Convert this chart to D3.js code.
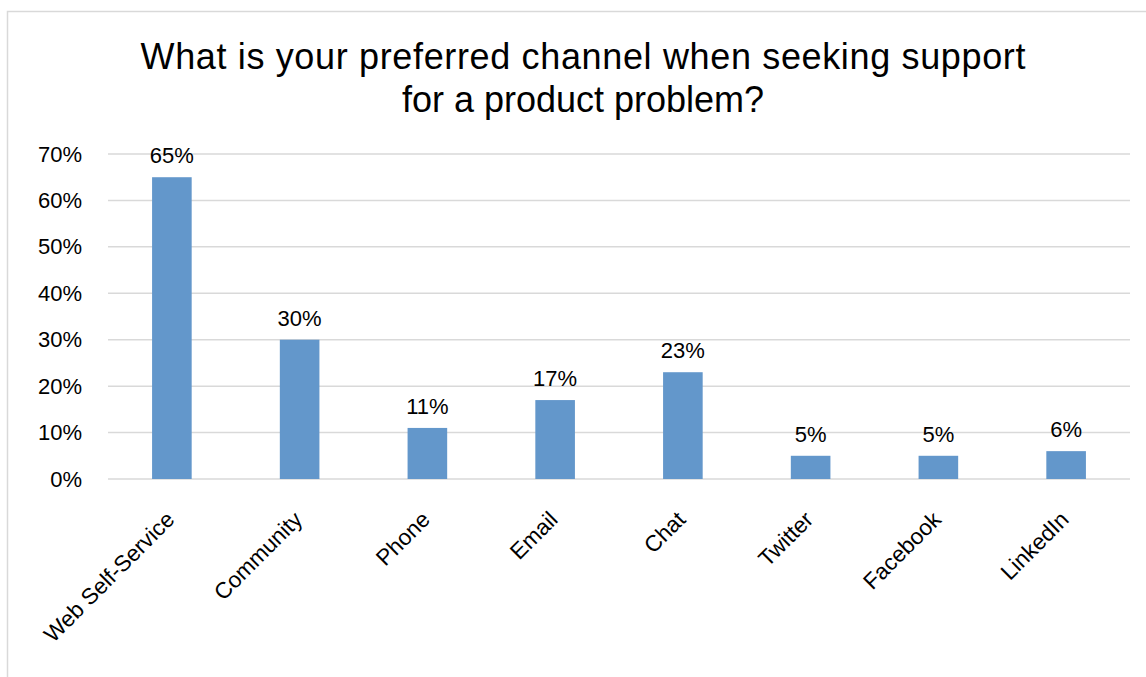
<!DOCTYPE html>
<html>
<head>
<meta charset="utf-8">
<script src="https://cdn.jsdelivr.net/npm/d3@7"></script>
<style>
  body { margin: 0; background: #fff; }
  svg { font-family: "Liberation Sans", Arial, sans-serif; }
</style>
</head>
<body>
<div class="container"></div>
<script>
const WIDTH = 1146;
const HEIGHT = 677;

// data
var categories = ['Web Self-Service', 'Community', 'Phone', 'Email', 'Chat', 'Twitter', 'Facebook', 'LinkedIn'];
var values = [65, 30, 11, 17, 23, 5, 5, 6];
var yTicks = [0, 10, 20, 30, 40, 50, 60, 70];
var titleLines = ['What is your preferred channel when seeking support', 'for a product problem?'];

var margin = { left: 108, right: 16, top: 154, bottom: 198 };

var svg = d3.select('.container').append('svg')
  .attr('width', WIDTH)
  .attr('height', HEIGHT);

// chart border
svg.append('rect')
  .attr('x', 7.5).attr('y', 11.5)
  .attr('width', WIDTH + 20).attr('height', HEIGHT + 20)
  .attr('fill', 'none')
  .attr('stroke', '#d9d9d9')
  .attr('stroke-width', 1.5);

svg.selectAll('.title')
  .data(titleLines)
  .enter().append('text')
  .attr('class', 'title')
  .attr('x', 583)
  .attr('y', function (d, i) { return 69 + i * 43; })
  .attr('text-anchor', 'middle')
  .attr('font-size', 36)
  .attr('textLength', function (d, i) { return i === 0 ? 885 : null; })
  .attr('fill', '#000')
  .text(function (d) { return d; });

var x = d3.scaleBand()
  .domain(categories)
  .range([margin.left, WIDTH - margin.right])
  .paddingInner(0.69)
  .paddingOuter(0.345);

var y = d3.scaleLinear()
  .domain([0, 70])
  .range([HEIGHT - margin.bottom, margin.top]);

// gridlines
svg.append('g')
  .selectAll('line')
  .data(yTicks)
  .enter().append('line')
  .attr('x1', margin.left)
  .attr('x2', WIDTH - margin.right)
  .attr('y1', function (d) { return y(d); })
  .attr('y2', function (d) { return y(d); })
  .attr('stroke', '#d9d9d9')
  .attr('stroke-width', 1.5);

// y axis labels
var yAxis = d3.axisLeft(y)
  .tickValues(yTicks)
  .tickSize(0)
  .tickPadding(26)
  .tickFormat(function (d) { return d + '%'; });

svg.append('g')
  .attr('transform', 'translate(' + margin.left + ',0)')
  .call(yAxis)
  .call(function (g) { g.select('.domain').remove(); })
  .selectAll('text')
  .attr('font-size', 22)
  .attr('font-family', '"Liberation Sans", Arial, sans-serif')
  .attr('fill', '#000');

// bars
svg.selectAll('.bar')
  .data(values)
  .enter().append('rect')
  .attr('class', 'bar')
  .attr('x', function (d, i) { return x(categories[i]); })
  .attr('width', x.bandwidth())
  .attr('y', function (d) { return y(d); })
  .attr('height', function (d) { return y(0) - y(d); })
  .attr('fill', '#6397cb');

// value labels
svg.selectAll('.val')
  .data(values)
  .enter().append('text')
  .attr('class', 'val')
  .attr('x', function (d, i) { return x(categories[i]) + x.bandwidth() / 2; })
  .attr('y', function (d) { return y(d) - 14; })
  .attr('text-anchor', 'middle')
  .attr('font-size', 22)
  .attr('fill', '#000')
  .text(function (d) { return d + '%'; });

// x axis labels
var xAxis = d3.axisBottom(x).tickSize(0).tickPadding(0);

svg.append('g')
  .attr('transform', 'translate(0,' + y(0) + ')')
  .call(xAxis)
  .call(function (g) { g.select('.domain').remove(); })
  .selectAll('text')
  .attr('font-size', 22.5)
  .attr('font-family', '"Liberation Sans", Arial, sans-serif')
  .attr('fill', '#000')
  .attr('text-anchor', 'end')
  .attr('dy', 0)
  .attr('transform', 'translate(4,42) rotate(-45)');
</script>
</body>
</html>
